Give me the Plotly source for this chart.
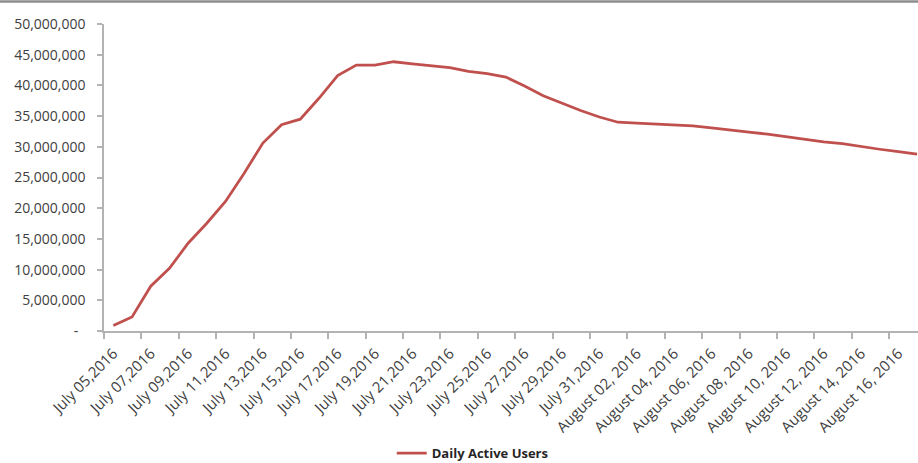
import datetime as dt
import plotly.graph_objects as go

# Daily active users, one value per day from July 5 to August 17, 2016
start_day = dt.date(2016, 7, 5)
users = [
    900000, 2300000, 7300000, 10200000, 14300000, 17550000, 21100000, 25700000,
    30600000, 33600000, 34500000, 37900000, 41600000, 43300000, 43300000, 43850000,
    43500000, 43200000, 42900000, 42300000, 41900000, 41350000, 39900000, 38300000,
    37100000, 35900000, 34850000, 34000000, 33850000, 33700000, 33500000, 33400000,
    33100000, 32700000, 32400000, 32060000, 31600000, 31200000, 30800000, 30500000,
    30000000, 29600000, 29200000, 28800000,
]

# Category labels shown on the axis (every second day)
tick_labels = [
    "July 05,2016", "July 07,2016", "July 09,2016", "July 11,2016", "July 13,2016",
    "July 15,2016", "July 17,2016", "July 19,2016", "July 21,2016", "July 23,2016",
    "July 25,2016", "July 27,2016", "July 29,2016", "July 31,2016",
    "August 02, 2016", "August 04, 2016", "August 06, 2016", "August 08, 2016",
    "August 10, 2016", "August 12, 2016", "August 14, 2016", "August 16, 2016",
]

y_ticks = [0, 5000000, 10000000, 15000000, 20000000, 25000000,
           30000000, 35000000, 40000000, 45000000, 50000000]
y_tick_text = ["-\u00a0\u00a0"] + [f"{v:,}" for v in y_ticks[1:]]

days = [start_day + dt.timedelta(days=i) for i in range(len(users))]
x_idx = list(range(len(days)))
hover = [d.strftime("%B %d, %Y") for d in days]

W, H = 918, 463
L, T, B = 104, 24, 132
AXIS = "#b3b3b3"
TXT = "#404040"

fig = go.Figure()
fig.add_trace(go.Scatter(
    x=x_idx, y=users, mode="lines", name="Daily Active Users",
    text=hover, hovertemplate="%{text}<br>%{y:,}<extra></extra>",
    line=dict(color="#C0504D", width=2.75),
))

fig.update_layout(
    width=W, height=H,
    margin=dict(l=L, r=0, t=T, b=B, pad=0, autoexpand=False),
    paper_bgcolor="white", plot_bgcolor="white",
    font=dict(family="Open Sans", color=TXT),
    showlegend=True,
    legend=dict(
        orientation="h", x=0.453, xanchor="center", y=-0.398, yanchor="middle",
        font=dict(family="Open Sans", size=13, color="#262626", weight="bold"),
        itemwidth=30,
    ),
    xaxis=dict(
        automargin=False,
        range=[-0.5, 43.05],
        tickmode="array",
        tickvals=x_idx[::2],
        ticktext=tick_labels,
        tickangle=-45,
        ticks="",
        ticklabelstandoff=6,
        tickfont=dict(family="Open Sans", size=15, color=TXT),
        showline=True, linecolor=AXIS, linewidth=1.5,
        showgrid=False, zeroline=False,
        minor=dict(tickmode="linear", tick0=-0.5, dtick=2, ticks="outside",
                   ticklen=6, tickcolor=AXIS, tickwidth=1.5, showgrid=False),
    ),
    yaxis=dict(
        automargin=False,
        range=[0, 50000000],
        tickmode="array",
        tickvals=y_ticks,
        ticktext=y_tick_text,
        ticks="outside", ticklen=5, tickcolor=AXIS, tickwidth=1.5,
        ticklabelstandoff=9,
        tickfont=dict(family="Open Sans", size=14, color=TXT),
        showline=True, linecolor=AXIS, linewidth=1.5,
        showgrid=False, zeroline=False,
    ),
)

# thin frame line along the top of the chart
fig.add_shape(
    type="line", xref="paper", yref="paper",
    x0=-L / (W - L), x1=1.0,
    y0=1 + (T - 1.5) / (H - T - B), y1=1 + (T - 1.5) / (H - T - B),
    line=dict(color="#8c8c8c", width=2.5),
)

fig.write_html("out.html")
